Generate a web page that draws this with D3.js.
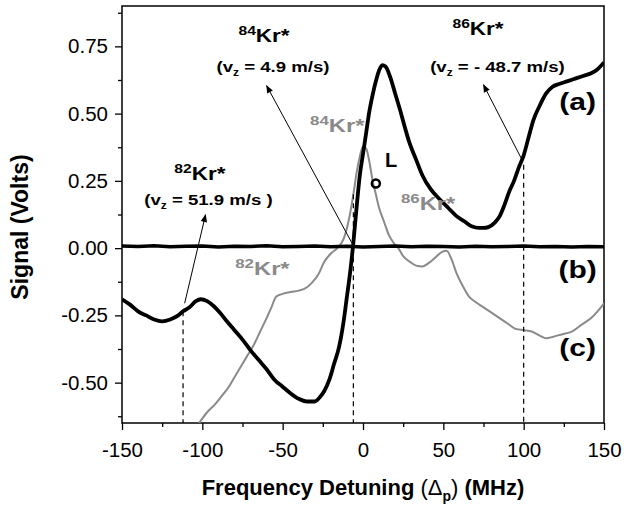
<!DOCTYPE html>
<html>
<head>
<meta charset="utf-8">
<script src="https://cdn.jsdelivr.net/npm/d3@7"></script>
<style>
  body { margin: 0; background: #fff; }
  text { font-family: "Liberation Sans", Arial, sans-serif; }
</style>
</head>
<body>
<script>
// trace (a): locking signal
var aFreq = [-150,-145,-140,-135,-130,-125,-120,-115,-112,-108,-104,-101,-97,-93,-89,-85,-80,-75,-70,-65,-60,-55,-50,-45,-40,-35,-30,-27,-24,-21,-18,-15,-12,-10,-8,-6,-4,-2,0,2,4,6,8,10,12,14,17,20,23,26,29,33,37,42,48,53,58,63,68,72,75,78,82,85,88,91,94,97,100,103,106,110,114,118,122,127,132,137,142,146,150];
var aSig = [-0.19,-0.21,-0.235,-0.25,-0.265,-0.272,-0.265,-0.25,-0.235,-0.22,-0.197,-0.19,-0.197,-0.215,-0.24,-0.27,-0.305,-0.34,-0.38,-0.415,-0.45,-0.49,-0.515,-0.54,-0.56,-0.57,-0.57,-0.555,-0.53,-0.49,-0.43,-0.37,-0.27,-0.18,-0.09,0.02,0.15,0.27,0.35,0.43,0.51,0.57,0.62,0.66,0.68,0.675,0.635,0.575,0.515,0.45,0.39,0.33,0.27,0.22,0.18,0.15,0.12,0.1,0.08,0.075,0.075,0.078,0.095,0.118,0.16,0.21,0.25,0.3,0.345,0.41,0.475,0.53,0.575,0.6,0.61,0.62,0.63,0.64,0.65,0.665,0.69];

// trace (b): baseline
var bFreq = [-150,-140,-130,-120,-110,-100,-90,-80,-70,-60,-50,-40,-30,-20,-10,0,10,20,30,40,50,60,70,80,90,100,110,120,130,140,150];
var bSig = [0.008,0.006,0.009,0.005,0.007,0.008,0.004,0.007,0.006,0.009,0.005,0.006,0.008,0.005,0.007,0.004,0.006,0.008,0.005,0.007,0.006,0.004,0.007,0.005,0.006,0.008,0.005,0.006,0.004,0.006,0.005];

// trace (c): fluorescence spectrum (grey)
var cFreq = [-102,-97,-92,-88,-84,-80,-76,-72,-68,-64,-60,-57,-54,-50,-45,-40,-36,-32,-28,-24,-20,-16,-12,-9,-6,-4,-2,0,2,4,6,8,10,13,16,19,22,25,29,33,37,41,45,49,52,55,58,62,66,70,75,80,85,90,95,100,105,110,114,118,124,130,136,142,146,150];
var cSig = [-0.65,-0.61,-0.58,-0.55,-0.52,-0.48,-0.44,-0.4,-0.36,-0.31,-0.26,-0.22,-0.18,-0.17,-0.163,-0.158,-0.15,-0.13,-0.1,-0.05,-0.02,0.0,0.035,0.1,0.2,0.28,0.34,0.378,0.37,0.32,0.25,0.2,0.15,0.1,0.05,0.02,0.0,-0.03,-0.05,-0.065,-0.068,-0.055,-0.035,-0.015,-0.01,-0.04,-0.09,-0.14,-0.18,-0.2,-0.22,-0.24,-0.26,-0.28,-0.3,-0.305,-0.31,-0.325,-0.335,-0.33,-0.32,-0.31,-0.285,-0.26,-0.235,-0.205];

var xTicks = [-150,-100,-50,0,50,100,150];
var xMinor = [-125,-75,-25,25,75,125];
var yTicks = [-0.5,-0.25,0,0.25,0.5,0.75];
var yMinor = [-0.625,-0.375,-0.125,0.125,0.375,0.625,0.875];

// isotope annotations
var isotopes = ["82","84","86"];
var velocities = [" = 51.9 m/s )"," = 4.9 m/s)"," = - 48.7 m/s)"];
var dropFreq = [-112,-6,100];
var dropTop = [-0.235,0.2,0.31];
var arrowFrom = [[-111,-0.205],[-7,0.02],[99,0.328]];
var arrowTo = [[-98,0.124],[-60,0.604],[75,0.607]];
var isoPos = [[-101.5,0.253],[-61.6,0.766],[71.6,0.792]];
var velPos = [[-96.2,0.16],[-56,0.655],[83.7,0.655]];
var greyPos = [[-62.6,-0.1],[-16,0.432],[40.5,0.142]];
var tracePos = [["(a)",0.513],["(b)",-0.11],["(c)",-0.40]];

var W = 624, H = 508;
var plotL = 122, plotR = 604, plotT = 6, plotB = 423;

var x = d3.scaleLinear().domain([-150,150]).range([plotL,plotR]);
var y = d3.scaleLinear().domain([-0.65,0.90]).range([plotB,plotT]);

var svg = d3.select("body").append("svg")
    .attr("width",W)
    .attr("height",H);

var defs = svg.append("defs");
defs.append("clipPath").attr("id","plotclip")
    .append("rect")
    .attr("x",plotL).attr("y",plotT)
    .attr("width",plotR-plotL).attr("height",plotB-plotT);

defs.append("marker")
    .attr("id","head")
    .attr("markerUnits","userSpaceOnUse")
    .attr("viewBox","0 0 10 10")
    .attr("refX",9).attr("refY",5)
    .attr("markerWidth",10).attr("markerHeight",8)
    .attr("orient","auto")
    .append("path")
    .attr("d","M0,1 L10,5 L0,9 Z")
    .attr("fill","black");

// axes
var xAxis = svg.append("g")
    .attr("transform","translate(0," + plotB + ")")
    .call(d3.axisBottom(x).tickValues(xTicks).tickFormat(function(d){ return String(d); })
        .tickSize(7).tickSizeOuter(0).tickPadding(12));
var xMin = svg.append("g")
    .attr("transform","translate(0," + plotB + ")")
    .call(d3.axisBottom(x).tickValues(xMinor).tickFormat("").tickSize(4).tickSizeOuter(0));

var yAxis = svg.append("g")
    .attr("transform","translate(" + plotL + ",0)")
    .call(d3.axisLeft(y).tickValues(yTicks).tickFormat(function(d){ return d.toFixed(2); })
        .tickSize(7).tickSizeOuter(0).tickPadding(7));
var yMin = svg.append("g")
    .attr("transform","translate(" + plotL + ",0)")
    .call(d3.axisLeft(y).tickValues(yMinor).tickFormat("").tickSize(4).tickSizeOuter(0));

svg.selectAll(".domain").remove();
svg.selectAll(".tick line").attr("stroke","black").attr("stroke-width",1.3);
xAxis.selectAll("text").style("font-size","20.5px").attr("fill","black");
yAxis.selectAll("text").style("font-size","20.5px").attr("fill","black");

// frame
svg.append("rect")
    .attr("x",plotL).attr("y",plotT)
    .attr("width",plotR-plotL).attr("height",plotB-plotT)
    .attr("fill","none")
    .attr("stroke","black")
    .attr("stroke-width",1.5);

var plot = svg.append("g").attr("clip-path","url(#plotclip)");

var line = d3.line()
    .x(function(d){ return x(d[0]); })
    .y(function(d){ return y(d[1]); })
    .curve(d3.curveMonotoneX);

plot.append("path")
    .datum(d3.zip(cFreq,cSig))
    .attr("d",line)
    .attr("fill","none")
    .attr("stroke","#8a8a8a")
    .attr("stroke-width",2);

plot.append("path")
    .datum(d3.zip(bFreq,bSig))
    .attr("d",line.curve(d3.curveLinear))
    .attr("fill","none")
    .attr("stroke","black")
    .attr("stroke-width",3.5);

line.curve(d3.curveMonotoneX);
plot.append("path")
    .datum(d3.zip(aFreq,aSig))
    .attr("d",line)
    .attr("fill","none")
    .attr("stroke","black")
    .attr("stroke-width",3.8)
    .attr("stroke-linejoin","round");

// dashed drop lines
svg.selectAll(".drop")
    .data(d3.zip(dropFreq,dropTop))
    .enter().append("line")
    .attr("class","drop")
    .attr("x1",function(d){ return x(d[0]); })
    .attr("x2",function(d){ return x(d[0]); })
    .attr("y1",function(d){ return y(d[1]); })
    .attr("y2",plotB)
    .attr("stroke","black")
    .attr("stroke-width",1.2)
    .attr("stroke-dasharray","5,4");

// arrows
svg.selectAll(".arrow")
    .data(d3.zip(arrowFrom,arrowTo))
    .enter().append("line")
    .attr("class","arrow")
    .attr("x1",function(d){ return x(d[0][0]); })
    .attr("y1",function(d){ return y(d[0][1]); })
    .attr("x2",function(d){ return x(d[1][0]); })
    .attr("y2",function(d){ return y(d[1][1]); })
    .attr("stroke","black")
    .attr("stroke-width",1)
    .attr("marker-end","url(#head)");

// point L
svg.append("circle")
    .attr("cx",x(8)).attr("cy",y(0.24))
    .attr("r",4)
    .attr("fill","none")
    .attr("stroke","black")
    .attr("stroke-width",2.5);
svg.append("text")
    .attr("x",x(13.7)).attr("y",y(0.30))
    .attr("font-weight","bold")
    .style("font-size","20px")
    .text("L");

function isoLabel(pos, mass, col, big) {
    var t = svg.append("g")
        .attr("transform","translate(" + x(pos[0]) + "," + y(pos[1]) + ") scale(1.25,1)")
        .append("text")
        .attr("text-anchor","middle")
        .attr("font-weight","bold")
        .attr("fill",col);
    t.append("tspan").style("font-size",(big ? 13.5 : 12.5) + "px").attr("dy",-7).text(mass);
    t.append("tspan").style("font-size",(big ? 19 : 18) + "px").attr("dy",7).text("Kr*");
}

isotopes.forEach(function(m,i){
    isoLabel(isoPos[i], m, "black", false);
    isoLabel(greyPos[i], m, "#8a8a8a", true);
    var t = svg.append("g")
        .attr("transform","translate(" + x(velPos[i][0]) + "," + y(velPos[i][1]) + ") scale(1.2,1)")
        .append("text")
        .attr("text-anchor","middle")
        .attr("font-weight","bold")
        .style("font-size","15.5px");
    t.append("tspan").text("(v");
    t.append("tspan").style("font-size","10px").attr("dy",4).text("z");
    t.append("tspan").attr("dy",-4).text(velocities[i]);
});

tracePos.forEach(function(d){
    svg.append("g")
        .attr("transform","translate(" + x(133.6) + "," + y(d[1]) + ") scale(1.25,1)")
        .append("text")
        .attr("text-anchor","middle")
        .attr("font-weight","bold")
        .style("font-size","24px")
        .text(d[0]);
});

// axis titles
svg.append("text")
    .attr("transform","translate(28,227) rotate(-90)")
    .attr("text-anchor","middle")
    .attr("font-weight","bold")
    .style("font-size","23px")
    .text("Signal (Volts)");

var xt = svg.append("text")
    .attr("x",363).attr("y",495)
    .attr("text-anchor","middle")
    .attr("font-weight","bold")
    .style("font-size","22px");
xt.append("tspan").text("Frequency Detuning ");
xt.append("tspan").attr("font-weight","normal").text("(\u0394");
xt.append("tspan").style("font-size","14px").attr("dy",6).text("p");
xt.append("tspan").attr("font-weight","normal").attr("dy",-6).text(")");
xt.append("tspan").text(" (MHz)");
</script>
</body>
</html>
